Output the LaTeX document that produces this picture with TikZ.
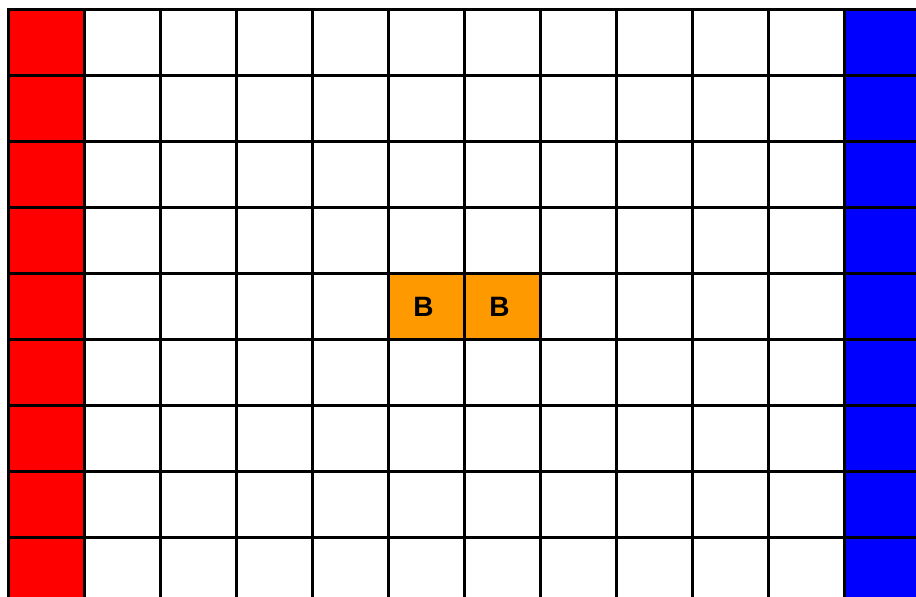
\documentclass[tikz,border=0pt]{standalone}
\usepackage{fontspec}
\setsansfont{Liberation Sans}
\definecolor{gridRed}{HTML}{FF0000}
\definecolor{gridBlue}{HTML}{0000FF}
\definecolor{boxOrange}{HTML}{FF9900}
\tikzset{
  cell/.style={
    draw=black,
    line width=3pt,
    minimum width=76pt,
    minimum height=66pt,
    inner sep=0pt,
    outer sep=0pt,
    anchor=north west
  },
  boxcell/.style={
    cell,
    fill=boxOrange,
    font=\sffamily\bfseries\fontsize{28}{28}\selectfont
  }
}

\begin{document}
\begin{tikzpicture}[x=1pt, y=-1pt]
\useasboundingbox (0,0) rectangle (916,597);
\clip (0,0) rectangle (916,597);

% --- Grid of cells ---
\foreach \c in {0,...,11}{
  \ifnum\c=0 \def\cellfill{gridRed}\else
    \ifnum\c=11 \def\cellfill{gridBlue}\else \def\cellfill{white}\fi
  \fi
  \foreach \r in {0,...,8}
    \node[cell, fill=\cellfill] (cell-\c-\r) at ({8.5+76*\c}, {9.5+66*\r}) {};
}

% --- Box cells ---
\node[boxcell] (boxA) at (cell-5-4.north west) {\hspace*{-6pt}B};
\node[boxcell] (boxB) at (cell-6-4.north west) {\hspace*{-6pt}B};

\end{tikzpicture}
\end{document}
